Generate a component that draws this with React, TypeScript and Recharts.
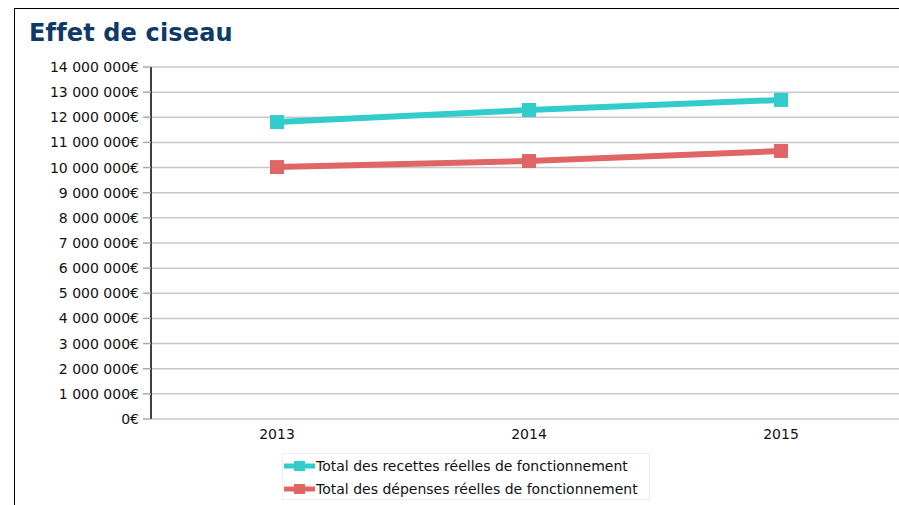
import React from "react";
import { LineChart, Line, XAxis, YAxis, CartesianGrid } from "recharts";

const years = ["2013", "2014", "2015"];
const recettes = [11810000, 12290000, 12690000];
const depenses = [10020000, 10260000, 10660000];
const yTicks = [0, 1e6, 2e6, 3e6, 4e6, 5e6, 6e6, 7e6, 8e6, 9e6, 10e6, 11e6, 12e6, 13e6, 14e6];
const boundaryTicks = [0, 1, 2, 3];

const TEAL = "#33cccc";
const RED = "#e06666";
const FONT = "'DejaVu Sans', sans-serif";

const data = years.map((year, i) => ({
    year,
    recettes: recettes[i],
    depenses: depenses[i],
}));

const fmtEuro = (v: number) =>
    Math.round(v).toString().replace(/\B(?=(\d{3})+(?!\d))/g, " ") + "€";

const SquareDot = (color: string) => (props: any) => {
    const { cx, cy, index } = props;
    if (cx == null || cy == null) return <g key={index} />;
    return <rect key={index} x={cx - 7} y={cy - 7} width={14} height={14} fill={color} />;
};

const series = [
    { key: "recettes", name: "Total des recettes réelles de fonctionnement", color: TEAL },
    { key: "depenses", name: "Total des dépenses réelles de fonctionnement", color: RED },
];

function LegendBox() {
    return (
        <div
            style={{
                position: "absolute",
                left: 282,
                top: 453,
                width: 368,
                height: 47,
                boxSizing: "border-box",
                border: "1px solid #eeeeee",
                padding: "0 0 0 1px",
                fontFamily: FONT,
                fontSize: 14,
                color: "#111",
            }}
        >
            {series.map((s) => (
                <div key={s.key} style={{ display: "flex", alignItems: "center", height: 23 }}>
                    <svg width={31} height={14} style={{ marginRight: 1 }}>
                        <line x1={0} y1={7} x2={31} y2={7} stroke={s.color} strokeWidth={5} />
                        <rect x={10} y={2} width={11} height={10} fill={s.color} />
                    </svg>
                    <span>{s.name}</span>
                </div>
            ))}
        </div>
    );
}

export default function App() {
    return (
        <div
            style={{
                position: "absolute",
                left: 0,
                top: 0,
                width: 899,
                height: 505,
                overflow: "hidden",
                background: "#fff",
            }}
        >
            <div
                style={{
                    position: "absolute",
                    left: 14,
                    top: 8,
                    width: 920,
                    height: 520,
                    border: "1.5px solid #000",
                    boxSizing: "border-box",
                }}
            />
            <div
                style={{
                    position: "absolute",
                    left: 29,
                    top: 19,
                    fontFamily: FONT,
                    fontWeight: "bold",
                    fontSize: 24,
                    letterSpacing: 0.15,
                    color: "#0f3a68",
                }}
            >
                Effet de ciseau
            </div>
            <div style={{ position: "absolute", left: 0, top: 0 }}>
                <LineChart
                    width={930}
                    height={505}
                    data={data}
                    margin={{ top: 67, right: 23, left: 0, bottom: 56 }}
                >
                    <CartesianGrid
                        horizontal
                        vertical={false}
                        stroke="#c8c8c8"
                        strokeWidth={1.5}
                    />
                    <XAxis
                        xAxisId="bounds"
                        type="number"
                        dataKey={() => 0}
                        domain={[0, 3]}
                        ticks={boundaryTicks}
                        height={0}
                        axisLine={{ stroke: "#333", strokeWidth: 2 }}
                        tickLine={{ stroke: "#aaa", strokeWidth: 1.5 }}
                        tickSize={5}
                        tick={() => <g />}
                    />
                    <XAxis
                        dataKey="year"
                        scale="band"
                        axisLine={false}
                        tickLine={false}
                        height={30}
                        tick={{ fill: "#111", fontSize: 14, fontFamily: FONT }}
                        dy={2}
                    />
                    <YAxis
                        width={151}
                        domain={[0, 14000000]}
                        ticks={yTicks}
                        interval={0}
                        tickFormatter={fmtEuro}
                        axisLine={{ stroke: "#000", strokeWidth: 1.5 }}
                        tickLine={{ stroke: "#aaa", strokeWidth: 1.5 }}
                        tickSize={8}
                        tick={{ fill: "#111", fontSize: 14, fontFamily: FONT }}
                        dx={-2}
                    />
                    {series.map((s) => (
                        <Line
                            key={s.key}
                            type="linear"
                            dataKey={s.key}
                            name={s.name}
                            stroke={s.color}
                            strokeWidth={6}
                            dot={SquareDot(s.color)}
                            activeDot={false}
                            isAnimationActive={false}
                        />
                    ))}
                </LineChart>
            </div>
            <LegendBox />
        </div>
    );
}
